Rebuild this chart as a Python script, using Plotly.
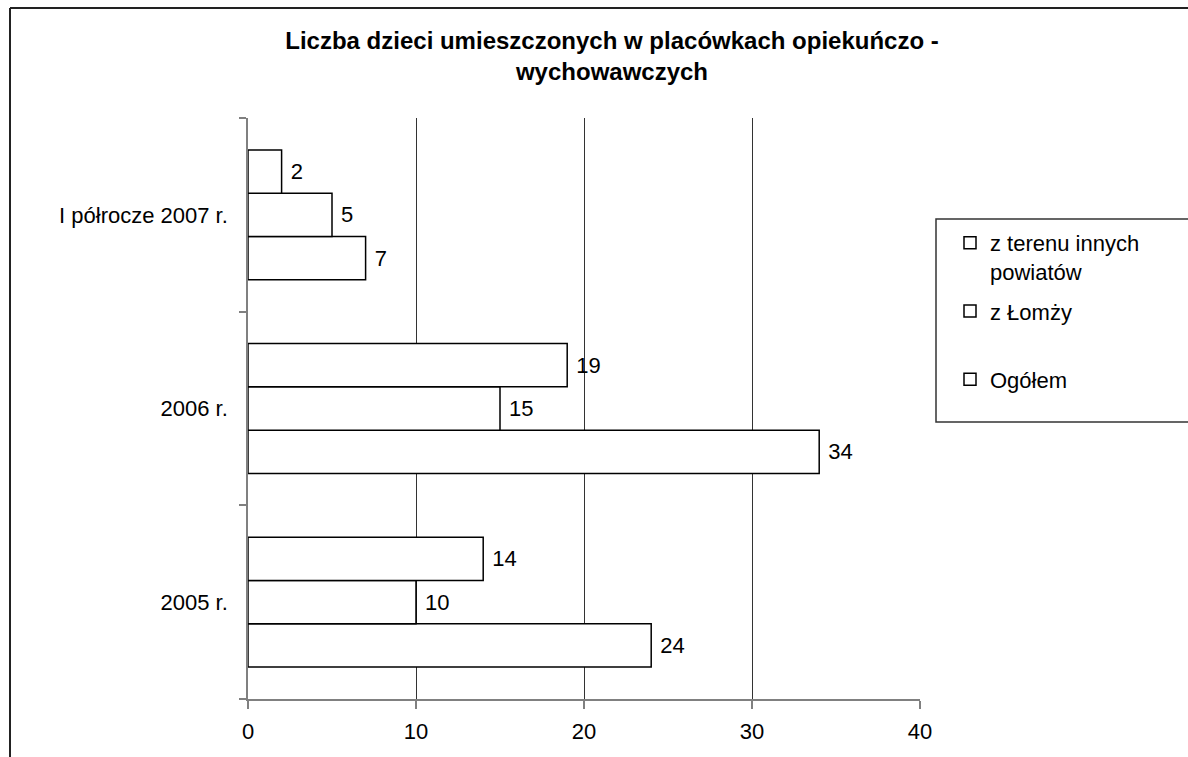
import plotly.graph_objects as go

# Categories (bottom to top) and series values
categories = ["2005 r.", "2006 r.", "I półrocze 2007 r."]
ogolem = [24, 34, 7]
z_lomzy = [10, 15, 5]
z_innych = [14, 19, 2]

series_names = ["Ogółem", "z Łomży<br>\u00a0", "z terenu innych<br>powiatów"]
legend_ranks = [3, 2, 1]
x_ticks = [0, 10, 20, 30, 40]

FONT = "Liberation Sans, Arial, sans-serif"
W, H = 1188, 757
L, R, T, B = 248, 268, 118, 58  # plot area margins in px


def px_x(px):
    return (px - L) / (W - L - R)


def px_y(py):
    return (H - B - py) / (H - T - B)


fig = go.Figure()
for i, (name, vals) in enumerate(zip(series_names, [ogolem, z_lomzy, z_innych])):
    fig.add_trace(go.Bar(
        y=categories, x=vals, name=name, orientation="h",
        marker=dict(color="white", line=dict(color="black", width=1.5)),
        text=[str(v) for v in vals], texttemplate="\u00a0%{text}",
        textposition="outside",
        textfont=dict(family=FONT, size=22, color="black"),
        cliponaxis=False, legendgroup=f"g{i}", legendrank=legend_ranks[i],
    ))

fig.update_layout(
    width=W, height=H,
    margin=dict(l=L, r=R, t=T, b=B),
    paper_bgcolor="white", plot_bgcolor="white",
    barmode="group", bargap=0.33, bargroupgap=0,
    font=dict(family=FONT, size=22, color="black"),
    title=dict(
        text="<b>Liczba dzieci umieszczonych w placówkach opiekuńczo -<br>wychowawczych</b>",
        font=dict(family=FONT, size=24, color="black"),
        x=px_x(612), xref="paper", xanchor="center",
        y=1 - 49 / H, yref="container", yanchor="middle",
    ),
    showlegend=True,
    legend=dict(
        x=px_x(950), y=px_y(222), xanchor="left", yanchor="top",
        xref="paper", yref="paper",
        traceorder="grouped", tracegroupgap=8,
        valign="top", borderwidth=0, bgcolor="rgba(0,0,0,0)",
        font=dict(family=FONT, size=22, color="black"),
    ),
    xaxis=dict(
        range=[0, 40], tickvals=x_ticks, showgrid=True,
        gridcolor="#333333", gridwidth=1, zeroline=False,
        showline=True, linecolor="#808080", linewidth=1.5,
        ticks="outside", ticklen=8, tickcolor="#808080", tickwidth=1.5,
        ticklabelstandoff=4,
        tickfont=dict(family=FONT, size=22, color="black"),
    ),
    yaxis=dict(
        showgrid=False, zeroline=False,
        showline=True, linecolor="#808080", linewidth=1.5,
        ticks="outside", ticklen=7, tickcolor="#808080", tickwidth=1.5,
        tickson="boundaries", ticklabelstandoff=14,
        tickfont=dict(family=FONT, size=22, color="black"),
    ),
    shapes=[
        # outer chart frame (left and top edges)
        dict(type="line", xref="paper", yref="paper",
             x0=px_x(10), x1=px_x(10), y0=px_y(8), y1=px_y(800),
             line=dict(color="#222222", width=2)),
        dict(type="line", xref="paper", yref="paper",
             x0=px_x(10), x1=px_x(1250), y0=px_y(8), y1=px_y(8),
             line=dict(color="#222222", width=2)),
        # legend box
        dict(type="rect", xref="paper", yref="paper",
             x0=px_x(936), x1=px_x(1250), y0=px_y(219), y1=px_y(422),
             line=dict(color="#333333", width=1.5), fillcolor="rgba(0,0,0,0)"),
    ],
)

fig.write_html("out.html")
